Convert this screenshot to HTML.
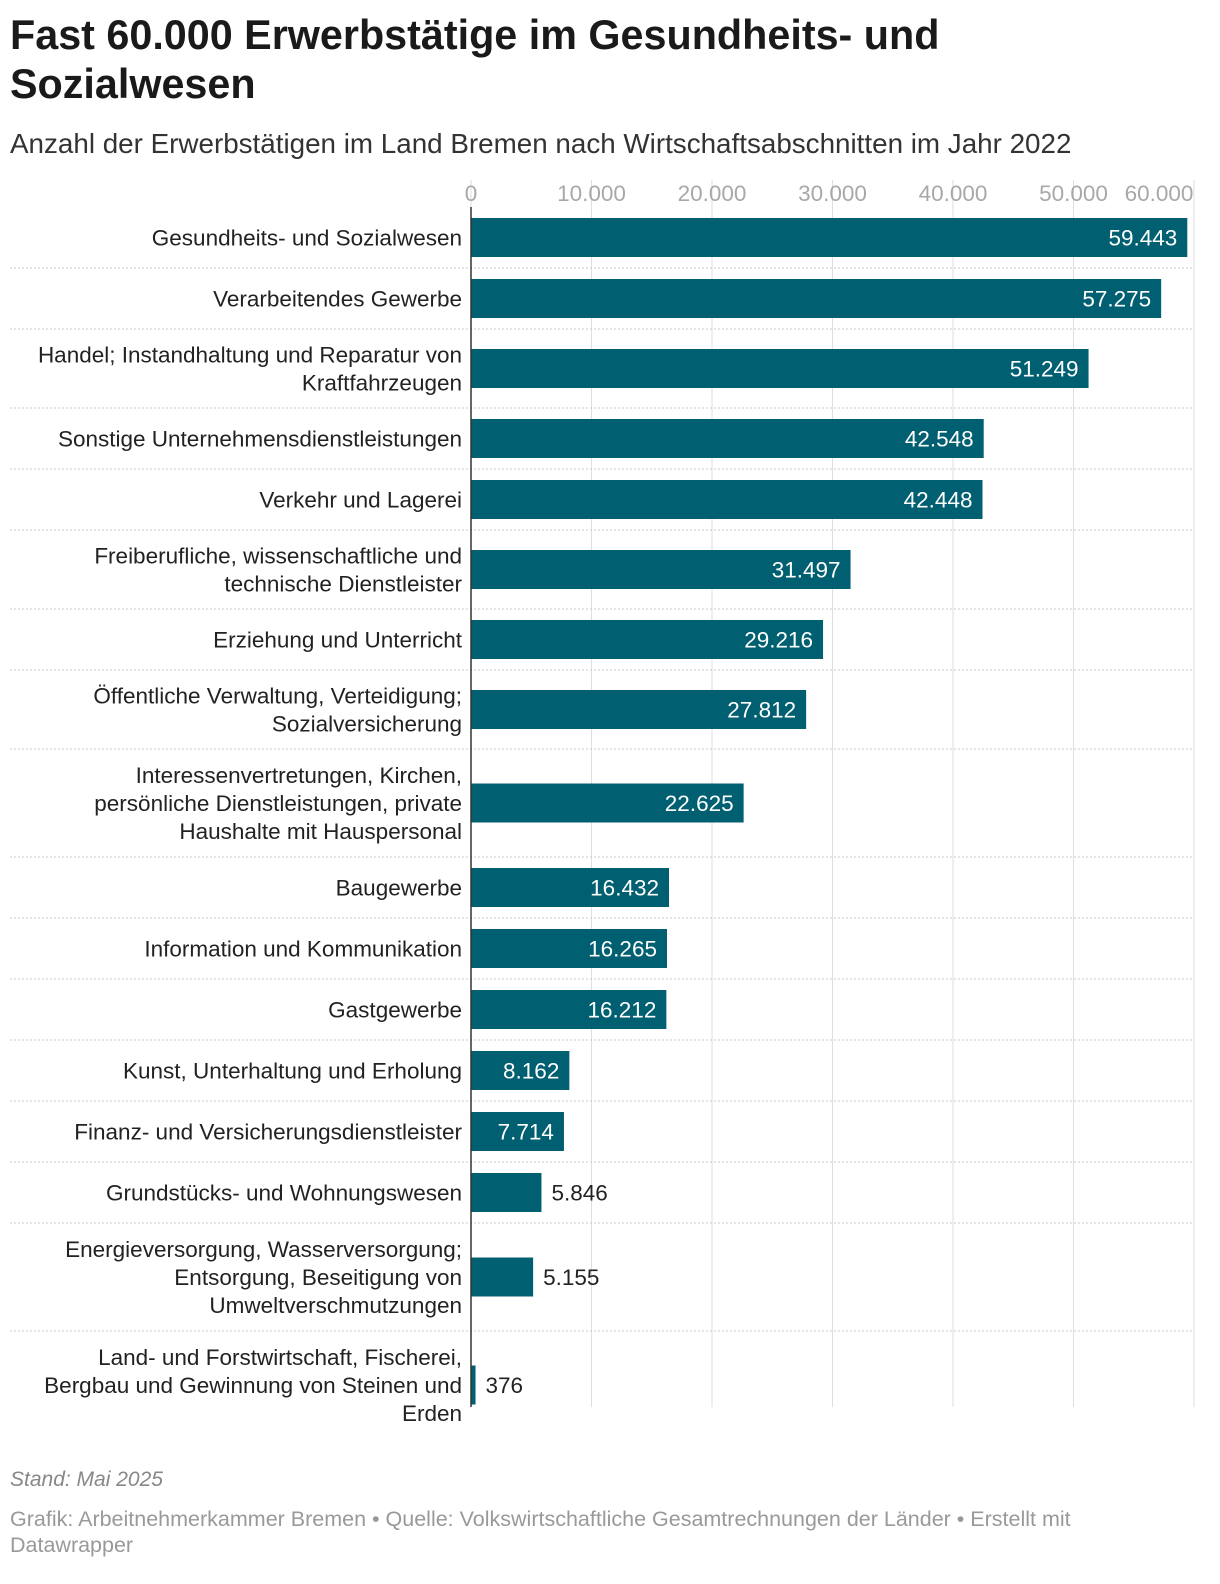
<!DOCTYPE html>
<html><head><meta charset="utf-8"><style>
body{margin:0;background:#fff;width:1220px;height:1584px;overflow:hidden;font-family:"Liberation Sans",sans-serif;}
h1{position:absolute;left:10px;top:11px;margin:0;font-size:41.3px;line-height:49px;font-weight:bold;color:#1a1a1a;width:1100px}
.sub{position:absolute;left:10px;top:128px;font-size:27.8px;color:#333}
.foot1{position:absolute;left:10px;top:1468px;font-size:21px;font-style:italic;color:#888}
.foot2{position:absolute;left:10px;top:1506px;font-size:21.5px;line-height:26px;color:#999;width:1100px}
</style></head><body>
<h1>Fast 60.000 Erwerbstätige im Gesundheits- und Sozialwesen</h1>
<div class="sub">Anzahl der Erwerbstätigen im Land Bremen nach Wirtschaftsabschnitten im Jahr 2022</div>
<svg id="chart" width="1220" height="1450" style="position:absolute;left:0;top:0"></svg>
<div class="foot1">Stand: Mai 2025</div>
<div class="foot2">Grafik: Arbeitnehmerkammer Bremen • Quelle: Volkswirtschaftliche Gesamtrechnungen der Länder • Erstellt mit Datawrapper</div>
<script>
const categories=[["Gesundheits- und Sozialwesen"],["Verarbeitendes Gewerbe"],["Handel; Instandhaltung und Reparatur von","Kraftfahrzeugen"],["Sonstige Unternehmensdienstleistungen"],["Verkehr und Lagerei"],["Freiberufliche, wissenschaftliche und","technische Dienstleister"],["Erziehung und Unterricht"],["Öffentliche Verwaltung, Verteidigung;","Sozialversicherung"],["Interessenvertretungen, Kirchen,","persönliche Dienstleistungen, private","Haushalte mit Hauspersonal"],["Baugewerbe"],["Information und Kommunikation"],["Gastgewerbe"],["Kunst, Unterhaltung und Erholung"],["Finanz- und Versicherungsdienstleister"],["Grundstücks- und Wohnungswesen"],["Energieversorgung, Wasserversorgung;","Entsorgung, Beseitigung von","Umweltverschmutzungen"],["Land- und Forstwirtschaft, Fischerei,","Bergbau und Gewinnung von Steinen und","Erden"]];
const values=[59443,57275,51249,42548,42448,31497,29216,27812,22625,16432,16265,16212,8162,7714,5846,5155,376];
const ticks=[0,10000,20000,30000,40000,50000,60000];
const tickLabels=["0","10.000","20.000","30.000","40.000","50.000","60.000"];
const NS="http://www.w3.org/2000/svg";
const svg=document.getElementById('chart');
const x0=471,x1=1194,maxV=60000;
const xs=v=>x0+(x1-x0)*v/maxV;
const fmt=v=>v.toLocaleString('de-DE');
function mk(t,a){const e=document.createElementNS(NS,t);for(const k in a)e.setAttribute(k,a[k]);svg.appendChild(e);return e;}
const rowH={1:61,2:79,3:108};
ticks.forEach((t,i)=>{
  const g=mk('line',{x1:xs(t),x2:xs(t),y1:180,y2:1407,stroke:'#dedede','stroke-width':1});
  
  
  const tx=mk('text',{x:i==6?xs(t)-35:xs(t),y:201,'text-anchor':'middle','font-size':22.5,fill:'#a8a8a8'});
  tx.textContent=tickLabels[i];
  
  
});
let rowTop=207;
categories.forEach((lines,i)=>{
  const h=rowH[lines.length];const cy=rowTop+h/2;
  if(i<categories.length-1){
    const s=mk('line',{x1:10,x2:1194,y1:rowTop+h,y2:rowTop+h,stroke:'#c8c8c8','stroke-dasharray':'2,2'});
    
    
  }
  const n=lines.length;
  lines.forEach((l,j)=>{
    const t=mk('text',{x:462,y:cy+8+(j-(n-1)/2)*28,'text-anchor':'end','font-size':22.5,fill:'#222'});
    t.textContent=l;
    
    
  });
  const w=xs(values[i])-x0;
  const b=mk('rect',{x:x0,y:cy-19.5,width:w,height:39,fill:'#005f70'});
  
  
  const inside=w>80;
  const v=mk('text',{x:inside?x0+w-10:x0+w+10,y:cy+8,'text-anchor':inside?'end':'start','font-size':22.5,fill:inside?'#fff':'#222'});
  v.textContent=fmt(values[i]);
  
  
  rowTop+=h;
});
const ax=mk('line',{x1:x0,x2:x0,y1:207,y2:1407,stroke:'#333','stroke-width':1.5});


</script>
</body></html>
